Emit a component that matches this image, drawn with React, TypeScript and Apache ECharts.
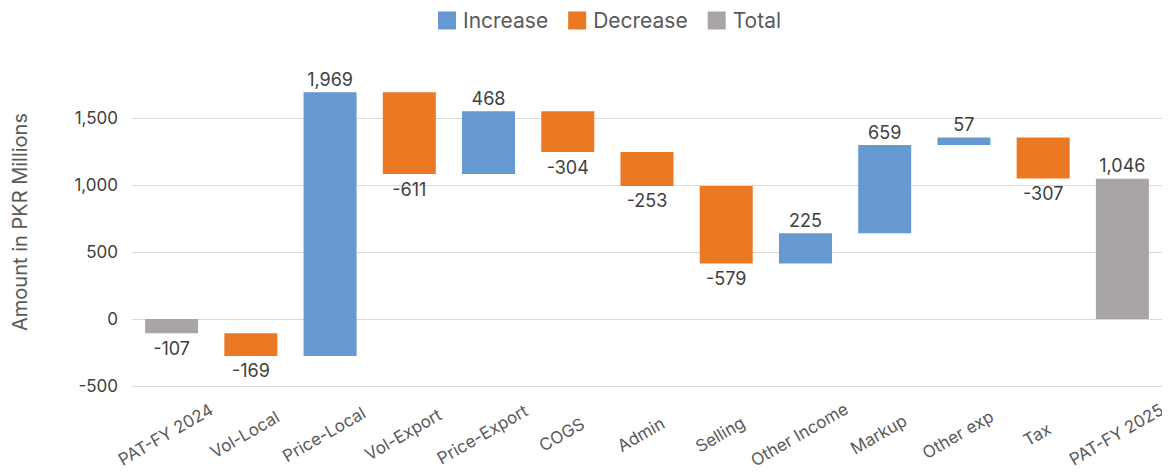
import React, { useEffect, useRef } from "react";
import * as echarts from "echarts";

const categories = [
  "PAT-FY 2024", "Vol-Local", "Price-Local", "Vol-Export", "Price-Export", "COGS",
  "Admin", "Selling", "Other Income", "Markup", "Other exp", "Tax", "PAT-FY 2025",
];
// change values per category; totals flagged
const values = [-107, -169, 1969, -611, 468, -304, -253, -579, 225, 659, 57, -307, 1046];
const isTotal = [true, false, false, false, false, false, false, false, false, false, false, false, true];
const yTicks = [-500, 0, 500, 1000, 1500];

const COLORS = { Increase: "#6699D0", Decrease: "#EB7823", Total: "#A9A5A4" };
const FONT = "Inter, 'Open Sans', sans-serif";

function buildData() {
  const inc: any[] = [];
  const dec: any[] = [];
  const tot: any[] = [];
  let running = 0;
  values.forEach((v, i) => {
    if (isTotal[i]) {
      tot.push([i, 0, v, v]);
      running = v;
    } else {
      const start = running;
      const end = running + v;
      (v >= 0 ? inc : dec).push([i, start, end, v]);
      running = end;
    }
  });
  return { inc, dec, tot };
}

const fmt = (v: number) => (v < 0 ? "-" : "") + Math.abs(v).toLocaleString("en-US");

function renderItem(params: any, api: any) {
  const i = api.value(0);
  const start = api.value(1);
  const end = api.value(2);
  const v = api.value(3);
  const p0 = api.coord([i, start]);
  const p1 = api.coord([i, end]);
  const w = 53;
  const top = Math.min(p0[1], p1[1]);
  const h = Math.abs(p1[1] - p0[1]);
  const above = v >= 0;
  return {
    type: "group",
    children: [
      {
        type: "rect",
        shape: { x: p0[0] - w / 2, y: top, width: w, height: h },
        style: { fill: api.visual("color") },
      },
      {
        type: "text",
        x: p0[0],
        y: above ? top - 4 : top + h + 6,
        style: {
          text: fmt(v),
          fill: "#404040",
          font: `18px ${FONT}`,
          align: "center",
          verticalAlign: above ? "bottom" : "top",
        },
      },
    ],
  };
}

export default function App() {
  const ref = useRef<HTMLDivElement>(null);
  useEffect(() => {
    const chart = echarts.init(ref.current!, null, { renderer: "svg" });
    const { inc, dec, tot } = buildData();
    const mk = (name: string, data: any[]) => ({
      name,
      type: "custom",
      renderItem,
      clip: false,
      itemStyle: { color: (COLORS as any)[name] },
      encode: { x: 0, y: [1, 2] },
      data,
    });
    chart.setOption({
      animation: false,
      textStyle: { fontFamily: FONT },
      legend: {
        top: 2,
        left: 430,
        padding: 0,
        itemWidth: 18,
        itemHeight: 18,
        itemGap: 20,
        icon: "rect",
        textStyle: { fontSize: 21, color: "#595959", fontFamily: FONT, padding: [0, 0, 0, 2] },
        data: ["Increase", "Decrease", "Total"],
      },
      grid: {
        left: 124,
        right: 8,
        top: 110,
        bottom: 86,
        containLabel: false,
        outerBoundsMode: "none",
      },
      xAxis: {
        type: "category",
        data: categories,
        axisLine: { show: false },
        axisTick: { show: false },
        axisLabel: {
          rotate: 30,
          interval: 0,
          fontSize: 17,
          color: "#595959",
          fontFamily: FONT,
          align: "center",
          verticalAlign: "middle",
          margin: 45,
          padding: [0, 14, 0, 0],
        },
      },
      yAxis: {
        type: "value",
        min: yTicks[0],
        max: yTicks[yTicks.length - 1],
        interval: 500,
        axisLabel: {
          fontSize: 17,
          color: "#404040",
          fontFamily: FONT,
          margin: 14,
          formatter: (v: number) => fmt(v),
        },
        splitLine: { lineStyle: { color: "#D9D9D9", width: 1 } },
      },
      graphic: [
        {
          type: "text",
          x: 12,
          y: 214,
          rotation: Math.PI / 2,
          style: {
            text: "Amount in PKR Millions",
            font: `20px ${FONT}`,
            fill: "#595959",
            align: "center",
            verticalAlign: "middle",
          },
        },
      ],
      series: [mk("Increase", inc), mk("Decrease", dec), mk("Total", tot)],
    });
    return () => chart.dispose();
  }, []);
  return <div ref={ref} style={{ width: 1162, height: 464 }} />;
}
